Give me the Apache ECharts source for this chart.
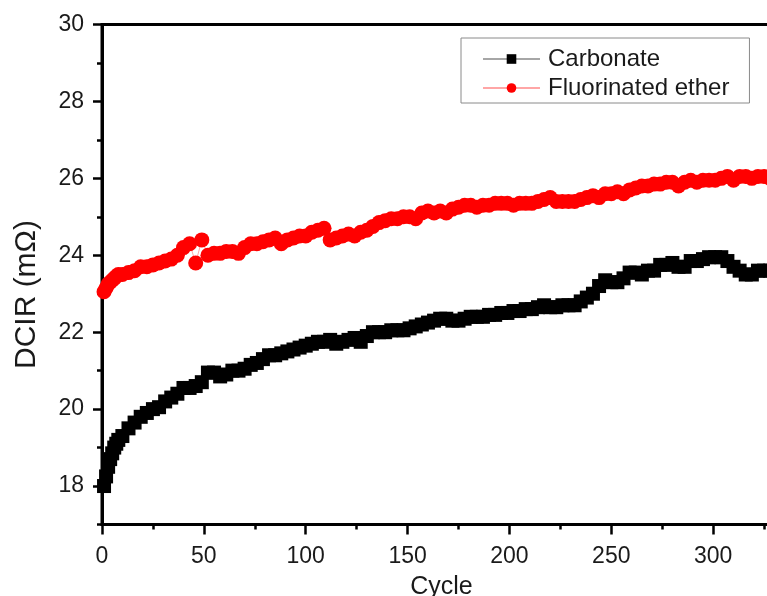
<!DOCTYPE html>
<html>
<head>
<meta charset="utf-8">
<script src="https://cdn.jsdelivr.net/npm/echarts@6/dist/echarts.min.js"></script>
<style>
html,body{margin:0;padding:0;background:#fff;}
#chart{width:767px;height:596px;}
</style>
</head>
<body>
<div id="chart"></div>
<script>
const seriesNames = ['Carbonate', 'Fluorinated ether'];
const cycles = [
  1,2,3,4,5,6,7,8,
  10,13,16,19,22,25,28,31,34,37,
  40,43,46,49,52,55,58,61,64,67,
  70,73,76,79,82,85,88,91,94,97,
  100,103,106,109,112,115,118,121,124,127,
  130,133,136,139,142,145,148,151,154,157,
  160,163,166,169,172,175,178,181,184,187,
  190,193,196,199,202,205,208,211,214,217,
  220,223,226,229,232,235,238,241,244,247,
  250,253,256,259,262,265,268,271,274,277,
  280,283,286,289,292,295,298,301,304,307,
  310,313,316,319,322,325,328,331
];
const carbonate = [
  18.0,18.25,18.5,18.7,18.85,19.0,19.1,19.2,
  19.3,19.5,19.65,19.8,19.9,20.0,20.05,20.2,20.3,20.4,
  20.55,20.55,20.6,20.7,20.95,20.95,20.85,20.9,21.0,21.0,
  21.05,21.15,21.2,21.3,21.4,21.4,21.45,21.5,21.55,21.6,
  21.65,21.7,21.75,21.75,21.8,21.7,21.75,21.8,21.85,21.75,
  21.9,22.0,22.0,22.0,22.05,22.05,22.05,22.1,22.15,22.2,
  22.25,22.3,22.35,22.35,22.3,22.3,22.35,22.4,22.4,22.4,
  22.45,22.45,22.5,22.5,22.55,22.55,22.6,22.6,22.65,22.7,
  22.65,22.65,22.7,22.7,22.7,22.8,22.9,23.0,23.2,23.35,
  23.3,23.3,23.4,23.55,23.55,23.5,23.6,23.6,23.75,23.75,
  23.8,23.7,23.7,23.85,23.85,23.9,23.95,23.95,23.95,23.85,
  23.7,23.6,23.5,23.5,23.6,23.6,23.6,23.6
];
const fluorinated = [
  23.05,23.15,23.25,23.3,23.35,23.4,23.45,23.5,
  23.5,23.55,23.6,23.7,23.7,23.75,23.8,23.85,23.9,24.0,
  24.2,24.3,23.8,24.4,24.0,24.05,24.05,24.1,24.1,24.05,
  24.2,24.3,24.3,24.35,24.4,24.45,24.3,24.4,24.45,24.5,
  24.5,24.6,24.65,24.7,24.4,24.45,24.5,24.55,24.5,24.6,
  24.65,24.75,24.85,24.9,24.95,24.95,25.0,25.0,24.95,25.1,
  25.15,25.1,25.15,25.1,25.2,25.25,25.3,25.3,25.25,25.3,
  25.3,25.35,25.35,25.35,25.3,25.35,25.35,25.35,25.4,25.45,
  25.5,25.4,25.4,25.4,25.4,25.45,25.5,25.55,25.5,25.6,
  25.6,25.65,25.6,25.7,25.75,25.8,25.8,25.85,25.85,25.9,
  25.9,25.8,25.9,25.95,25.9,25.95,25.95,25.95,26.0,26.05,
  25.95,26.05,26.05,26.0,26.05,26.05,26.0,26.05
];
const yMajorTicks = [18, 20, 22, 24, 26, 28, 30];
const xTitle = 'Cycle';
const yTitle = 'DCIR (mΩ)';

const FONT = '"Liberation Sans", Arial, Helvetica, sans-serif';
const TXT = '#1a1a1a';

const chart = echarts.init(document.getElementById('chart'), null, {renderer: 'canvas'});
const toPairs = (xs, ys) => xs.map((x, i) => [x, ys[i]]);

chart.setOption({
  animation: false,
  backgroundColor: '#fff',
  textStyle: {fontFamily: FONT},
  grid: {
    left: 102, top: 24.5, width: 713, height: 500,
    outerBoundsMode: 'none', containLabel: false,
    show: true, borderColor: '#000', borderWidth: 3, backgroundColor: 'transparent'
  },
  legend: {
    orient: 'vertical',
    left: 461, top: 38,
    padding: [9, 20, 3, 21],
    itemGap: 5,
    itemWidth: 57, itemHeight: 12,
    borderColor: '#8a8a8a', borderWidth: 1,
    textStyle: {fontSize: 24, color: TXT, fontFamily: FONT, padding: [0, 0, 0, 3]},
    data: seriesNames
  },
  xAxis: {
    type: 'value', min: 0, max: 350, interval: 50,
    axisLine: {show: true, lineStyle: {color: '#000', width: 3}},
    axisTick: {show: true, length: 10, lineStyle: {color: '#000', width: 2.5}},
    minorTick: {show: true, splitNumber: 2, length: 5, lineStyle: {color: '#000', width: 2.5}},
    splitLine: {show: false},
    minorSplitLine: {show: false},
    axisLabel: {fontSize: 23, margin: 21, color: TXT, fontFamily: FONT},
    name: xTitle, nameLocation: 'middle', nameGap: 50,
    nameTextStyle: {fontSize: 25, color: TXT, fontFamily: FONT, padding: [0, 34, 0, 0]}
  },
  yAxis: [{
    type: 'value', min: 17, max: 30, interval: 1,
    axisLine: {show: true, lineStyle: {color: '#000', width: 3}},
    axisTick: {show: true, length: 5, lineStyle: {color: '#000', width: 2.5}},
    axisLabel: {show: false},
    splitLine: {show: false},
    name: yTitle, nameLocation: 'middle', nameGap: 60,
    nameTextStyle: {fontSize: 30, color: TXT, fontFamily: FONT, padding: [0, 40, 0, 0]}
  }, {
    type: 'value', min: 17, max: 30, interval: 1, position: 'left',
    axisLine: {show: false},
    axisTick: {show: true, length: 9, customValues: yMajorTicks, lineStyle: {color: '#000', width: 2.5}},
    axisLabel: {show: true, customValues: yMajorTicks, fontSize: 23, margin: 18, color: TXT, fontFamily: FONT},
    splitLine: {show: false}
  }],
  series: [{
    name: seriesNames[0], type: 'line', yAxisIndex: 0,
    data: toPairs(cycles, carbonate),
    symbol: 'rect', symbolSize: 14, showAllSymbol: true,
    itemStyle: {color: '#000'},
    lineStyle: {color: '#000', width: 1, opacity: 0.35},
    clip: true
  }, {
    name: seriesNames[1], type: 'line', yAxisIndex: 0,
    data: toPairs(cycles, fluorinated),
    symbol: 'circle', symbolSize: 15, showAllSymbol: true,
    itemStyle: {color: '#ff0000'},
    lineStyle: {color: '#ff0000', width: 1, opacity: 0.35},
    clip: true
  }]
});
</script>
</body>
</html>
